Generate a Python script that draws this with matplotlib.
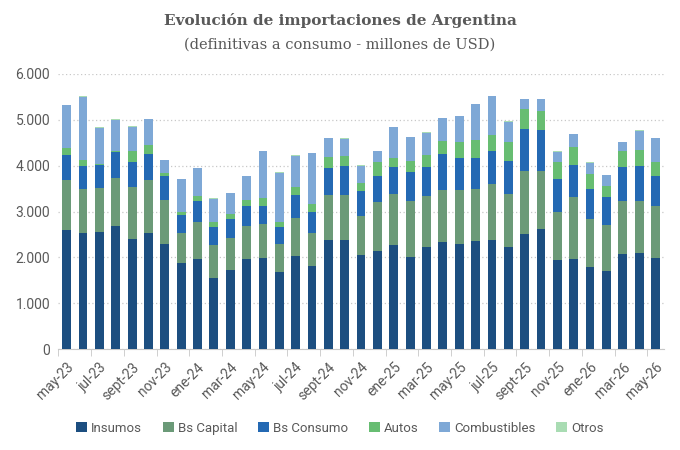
import numpy as np
import matplotlib.pyplot as plt
from matplotlib.ticker import FuncFormatter, FixedLocator

# ---------Datos (millones de USD)-----------
meses = ["may-23", "jun-23", "jul-23", "ago-23", "sept-23", "oct-23", "nov-23", "dic-23",
         "ene-24", "feb-24", "mar-24", "abr-24", "may-24", "jun-24", "jul-24", "ago-24",
         "sept-24", "oct-24", "nov-24", "dic-24", "ene-25", "feb-25", "mar-25", "abr-25",
         "may-25", "jun-25", "jul-25", "ago-25", "sept-25", "oct-25", "nov-25", "dic-25",
         "ene-26", "feb-26", "mar-26", "abr-26", "may-26"]

insumos = [2590, 2530, 2560, 2690, 2400, 2530, 2290, 1880, 1970, 1550, 1720, 1960, 1990,
           1690, 2040, 1820, 2380, 2370, 2050, 2140, 2270, 2010, 2230, 2340, 2290, 2350,
           2380, 2230, 2510, 2620, 1950, 1960, 1790, 1710, 2070, 2100, 1990]
bs_capital = [1100, 950, 960, 1050, 1130, 1150, 970, 650, 800, 710, 700, 720, 740,
              600, 810, 720, 970, 1000, 860, 1060, 1110, 1220, 1110, 1130, 1170, 1130,
              1210, 1150, 1380, 1270, 1050, 1360, 1050, 990, 1160, 1130, 1120]
bs_consumo = [540, 505, 490, 550, 550, 580, 510, 400, 450, 400, 420, 440, 400,
              380, 510, 450, 600, 630, 540, 570, 600, 640, 640, 780, 700, 680,
              730, 720, 900, 890, 700, 700, 660, 620, 750, 770, 660]
autos = [160, 130, 20, 20, 240, 200, 60, 70, 120, 120, 110, 120, 160,
         100, 180, 170, 230, 210, 180, 300, 180, 240, 260, 280, 360, 400,
         340, 420, 450, 420, 390, 390, 320, 230, 340, 340, 300]
combustibles = [930, 1390, 800, 690, 530, 550, 290, 700, 600, 500, 450, 530, 1030,
                1080, 680, 1110, 420, 380, 370, 250, 680, 510, 480, 510, 560, 780,
                860, 440, 210, 250, 210, 270, 240, 240, 190, 420, 530]
otros = [10] * len(meses)

series = [
    ("Insumos", insumos, "#1c4e80"),
    ("Bs Capital", bs_capital, "#6b9a78"),
    ("Bs Consumo", bs_consumo, "#2469b3"),
    ("Autos", autos, "#67bd72"),
    ("Combustibles", combustibles, "#7ea8d6"),
    ("Otros", otros, "#a9dcb3"),
]

plt.rcParams["font.family"] = ["Roboto", "DejaVu Sans"]
gris = "#595959"

fig = plt.figure(figsize=(6.8, 4.5), dpi=100)
ax = fig.add_axes([0.086, 0.2244, 0.89, 0.6112])

x = np.arange(len(meses))
base = np.zeros(len(meses))
for nombre, valores, color in series:
    ax.bar(x, valores, width=0.54, bottom=base, color=color, label=nombre, zorder=3)
    base += np.array(valores)

ax.set_ylim(0, 6000)
ax.set_xlim(-0.5, len(meses) - 0.5)
ax.set_yticks(range(0, 6001, 1000))
ax.yaxis.set_major_formatter(FuncFormatter(lambda v, p: f"{int(v):,}".replace(",", ".")))
ax.grid(axis="y", linestyle=(0, (1, 2)), color="#c8c8c8", linewidth=0.9, zorder=0)

ax.set_xticks(x[::2])
ax.set_xticklabels(meses[::2], rotation=45, ha="right", rotation_mode="anchor")
ax.xaxis.set_minor_locator(FixedLocator(np.arange(-0.5, len(meses), 2)))
ax.tick_params(axis="x", which="major", length=0, pad=8, labelsize=10, labelcolor=gris)
ax.tick_params(axis="x", which="minor", length=5, color="#c8c8c8")
ax.tick_params(axis="y", length=0, labelsize=10, labelcolor=gris, pad=6)

for lado in ["top", "right", "left"]:
    ax.spines[lado].set_visible(False)
ax.spines["bottom"].set_color("#c8c8c8")

fig.text(0.5, 0.955, "Evolución de importaciones de Argentina", ha="center", va="center",
         fontsize=11, fontweight="bold", color=gris, family="DejaVu Serif")
fig.text(0.5, 0.9, "(definitivas a consumo - millones de USD)", ha="center", va="center",
         fontsize=10.5, color=gris, family="DejaVu Serif")

fig.legend(loc="center", bbox_to_anchor=(0.5, 0.048), ncol=6, frameon=False,
           fontsize=9.5, handlelength=0.8, handleheight=0.8, handletextpad=0.3,
           columnspacing=1.6, labelcolor=gris)

fig.savefig("out.png", dpi=100)
